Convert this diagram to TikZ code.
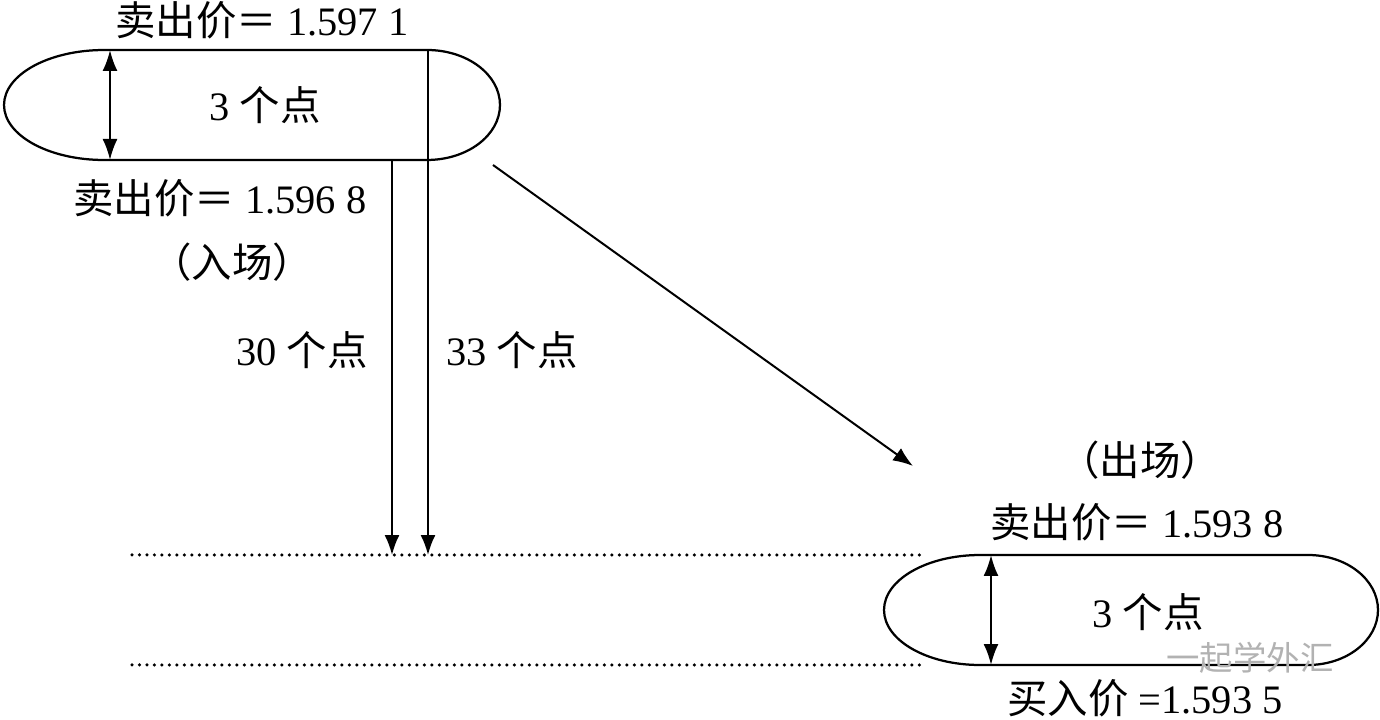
\documentclass[tikz,border=0pt]{standalone}
\usepackage{fontspec}
\setmainfont{Liberation Serif}
\newfontfamily\cjk{Noto Sans CJK SC}
\usetikzlibrary{arrows.meta}
\begin{document}
\begin{tikzpicture}[x=0.02cm,y=0.02cm,
  lbl/.style={font=\fontsize{23}{26}\selectfont, inner sep=0pt, anchor=center},
  shp/.style={line width=0.045cm, black},
  arr/.style={line width=0.04cm, -{Latex[length=0.4cm,width=0.3cm]}},
  darr/.style={line width=0.045cm, {Latex[length=0.42cm,width=0.3cm]}-{Latex[length=0.42cm,width=0.3cm]}},
  dots/.style={line width=0.07cm, line cap=round, dash pattern=on 0pt off 0.15cm}]
\useasboundingbox (0,0) rectangle (1380,720);
\fill[white] (0,0) rectangle (1380,720);
% top stadium
\draw[shp] (104,670) -- (427,670) arc[start angle=90,end angle=-90,x radius=1.46cm,y radius=1.1cm]
  -- (104,560) arc[start angle=270,end angle=90,x radius=2cm,y radius=1.1cm] -- cycle;
% bottom stadium
\draw[shp] (980,165) -- (1308,165) arc[start angle=90,end angle=-90,x radius=1.4cm,y radius=1.1cm]
  -- (980,55) arc[start angle=270,end angle=90,x radius=1.92cm,y radius=1.1cm] -- cycle;
% coordinates
\coordinate (ta) at (110,670);
\coordinate (tb) at (110,560);
\coordinate (v1s) at (392,560);
\coordinate (v1e) at (392,165);
\coordinate (v2s) at (428,670);
\coordinate (v2e) at (428,165);
\coordinate (ds) at (493,555);
\coordinate (de) at (913,254);
\coordinate (ba) at (991,165);
\coordinate (bb) at (991,55);
\coordinate (l1s) at (132,165);
\coordinate (l1e) at (925,165);
\coordinate (l2s) at (132,55);
\coordinate (l2e) at (925,55);
% connectors
\draw[darr] (ta) -- (tb);
\draw[darr] (ba) -- (bb);
\draw[arr] (v1s) -- (v1e);
\draw[arr] (v2s) -- (v2e);
\draw[arr] (ds) -- (de);
\draw[dots] (l1s) -- (l1e);
\draw[dots] (l2s) -- (l2e);
% labels
\node[lbl] (t1) at (262,700) {{\cjk 卖出价＝} 1.597 1};
\node[lbl] (t2) at (265,615) {3 {\cjk 个点}};
\node[lbl] (t3) at (220,522) {{\cjk 卖出价＝} 1.596 8};
\node[lbl] (t4) at (232,458) {{\cjk （入场）}};
\node[lbl] (t5) at (302,370) {30 {\cjk 个点}};
\node[lbl] (t6) at (512,370) {33 {\cjk 个点}};
\node[lbl] (t7) at (1140,260) {{\cjk （出场）}};
\node[lbl] (t8) at (1137,198) {{\cjk 卖出价＝} 1.593 8};
\node[lbl] (t9) at (1148,108) {3 {\cjk 个点}};
\node[lbl] (t10) at (1145,22) {{\cjk 买入价} =1.593 5};
\node[lbl, text=black!30, font=\fontsize{19}{22}\selectfont] (wm) at (1250,62) {{\cjk 一起学外汇}};
\end{tikzpicture}
\end{document}
